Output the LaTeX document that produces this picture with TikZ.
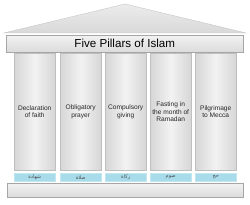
\documentclass[tikz,border=0pt]{standalone}
\usepackage{fontspec}
\setmainfont{Liberation Sans}
\newfontfamily\arabicfont[Script=Arabic]{DejaVu Sans}
\TeXXeTstate=1
\definecolor{tagblue}{HTML}{A8DCEA}
\begin{document}
\begin{tikzpicture}[x=1pt,y=-1pt,
  slab/.style={draw=gray!70, top color=gray!10, bottom color=gray!28, line width=0.5pt},
  pillar/.style={draw=gray!50, line width=0.4pt, left color=gray!32, right color=gray!32, middle color=gray!10, minimum width=41pt, minimum height=117pt, inner sep=0pt, anchor=north west},
  ptext/.style={font=\fontsize{6.6}{7.6}\selectfont, align=center, text=black!85},
  tag/.style={fill=tagblue, draw=tagblue!70, minimum width=41pt, minimum height=8pt, inner sep=0pt, anchor=north west, font=\arabicfont\fontsize{5}{5}\selectfont, text=black!70}]
\useasboundingbox (0,0) rectangle (250,205);
\fill[white] (0,0) rectangle (250,205);
% roof
\path[draw=gray!45, top color=gray!15, bottom color=gray!30, line width=0.4pt] (4,33) -- (125,4) -- (246,33) -- cycle;
% banner
\node[slab, minimum width=237pt, minimum height=17pt, inner sep=0pt, anchor=north west, font=\fontsize{11.6}{13}\selectfont] (banner) at (6,35) {Five Pillars of Islam};
% pillars
\node[pillar] (p1) at (14,53) {};
\node[pillar] (p2) at (60,53) {};
\node[pillar] (p3) at (105,53) {};
\node[pillar] (p4) at (150,53) {};
\node[pillar] (p5) at (195,53) {};
\node[ptext] (t1) at (p1.center) {Declaration\\of faith};
\node[ptext] (t2) at (p2.center) {Obligatory\\prayer};
\node[ptext] (t3) at (p3.center) {Compulsory\\giving};
\node[ptext] (t4) at (p4.center) {Fasting in\\the month of\\Ramadan};
\node[ptext] (t5) at (p5.center) {Pilgrimage\\to Mecca};
% arabic tags
\node[tag] (a1) at (14,173) {\beginR شهادة\endR};
\node[tag] (a2) at (60,173) {\beginR صلاة\endR};
\node[tag] (a3) at (105,173) {\beginR زكاة\endR};
\node[tag] (a4) at (150,173) {\beginR صوم\endR};
\node[tag] (a5) at (195,173) {\beginR حج\endR};
% base
\node[slab, minimum width=236pt, minimum height=14pt, inner sep=0pt, anchor=north west] (base) at (7,183) {};
\end{tikzpicture}
\end{document}
